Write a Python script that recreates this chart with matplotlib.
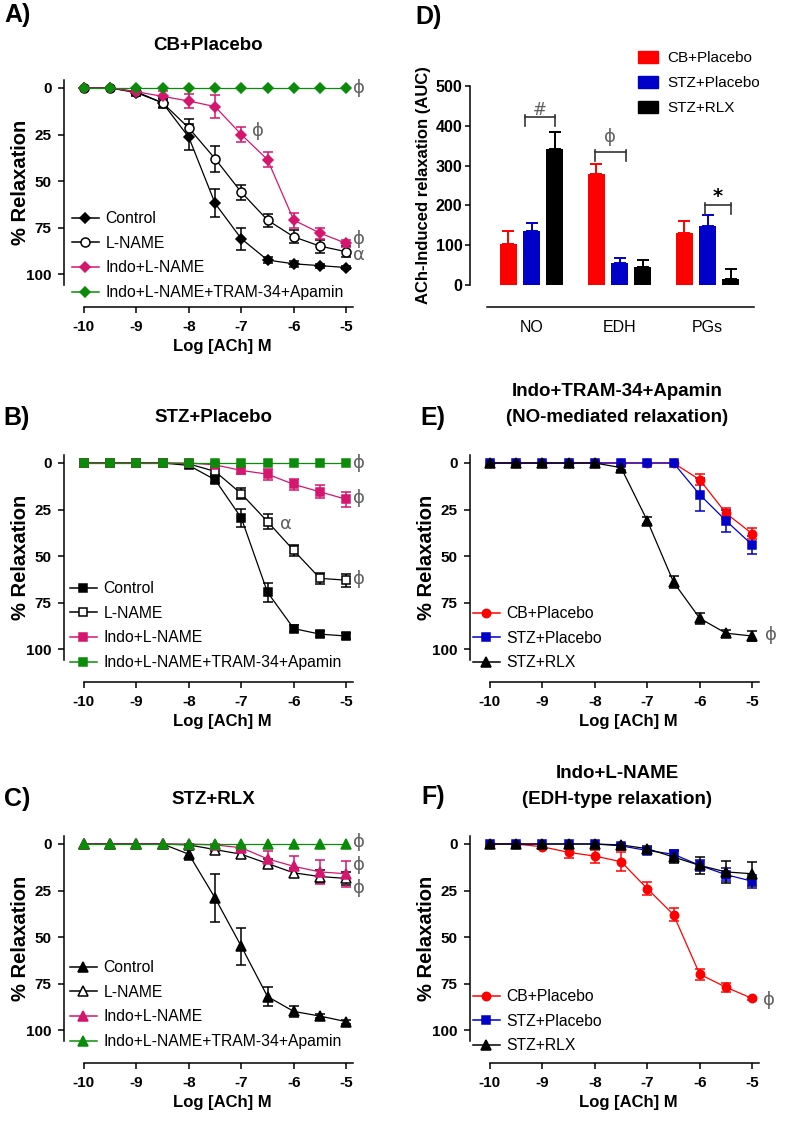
import matplotlib.pyplot as plt
from matplotlib.lines import Line2D
from matplotlib.patches import Patch
import numpy as np

plt.rcParams['font.family'] = ['Liberation Sans', 'DejaVu Sans']

W, H = 787, 1123

log_ach = [-10, -9.5, -9, -8.5, -8, -7.5, -7, -6.5, -6, -5.5, -5]

# A) CB+Placebo
cb_control = [0, 0, 2.5, 8, 26.5, 62, 81, 92.5, 94.5, 95.5, 96.5]
cb_control_err = [0, 0, 2, 2, 7, 7.5, 6, 1.5, 1.5, 1, 1]
cb_lname = [0, 0, 2, 8, 21.5, 38, 56, 71, 80, 85, 88]
cb_lname_err = [0, 0, 2, 2.5, 5, 7, 4, 3.5, 3.5, 3.5, 3]
cb_indo = [0, 0, 2, 4.5, 7, 10, 25, 38.5, 71, 78, 83.5]
cb_indo_err = [0, 0, 1, 3, 4, 6, 4, 4, 4, 3, 2]
cb_tram = [0, 0, 0, 0, 0, 0, 0, 0, 0, 0, 0]

# B) STZ+Placebo
stz_control = [0, 0, 0, 0, 1.3, 9, 29.5, 69.5, 89, 92, 93]
stz_control_err = [0, 0, 0, 0, 1, 2, 5, 5, 2, 1.5, 1.5]
stz_lname = [0, 0, 0, 0, 0.5, 4.5, 16.5, 31.5, 47, 62, 63]
stz_lname_err = [0, 0, 0, 0, 0.5, 1.5, 3, 4, 3, 3, 3.5]
stz_indo = [0, 0, 0, 0, 0, 1, 4, 6, 11.5, 15.5, 19.5]
stz_indo_err = [0, 0, 0, 0, 0, 1, 2, 3, 3, 3.5, 4]
stz_tram = [0, 0, 0, 0, 0, 0, 0, 0, 0, 0, 0]

# C) STZ+RLX
rlx_control = [0, 0, 0, 0, 5.5, 29, 55, 82, 90, 92.5, 95.5]
rlx_control_err = [0, 0, 0, 0, 3, 13, 10, 5, 3, 1, 1]
rlx_lname = [0, 0, 0, 0, 0.5, 3, 5.5, 10.5, 15.5, 17.5, 18.5]
rlx_lname_err = [0, 0, 0, 0, 0.5, 1, 2, 2.5, 2.5, 3.5, 3.5]
rlx_indo = [0, 0, 0, 0, 0, 0.5, 2, 8, 12, 15, 16]
rlx_indo_err = [0, 0, 0, 0, 0, 0.5, 1, 4, 5.5, 6.5, 7]
rlx_tram = [0, 0, 0, 0, 0, 0, 0, 0, 0, 0, 0]

# D) AUC
pathways = ['NO', 'EDH', 'PGs']
auc_cb = [103, 280, 130]
auc_cb_err = [32, 25, 32]
auc_stz = [135, 55, 147]
auc_stz_err = [20, 12, 28]
auc_rlx = [342, 45, 15]
auc_rlx_err = [42, 18, 25]

# E) Indo+TRAM-34+Apamin (NO-mediated)
no_cb = [0, 0, 0, 0, 0, 0, 0, 0, 9, 27, 38]
no_cb_err = [0, 0, 0, 0, 0, 0, 0, 0, 3, 3, 3]
no_stz = [0, 0, 0, 0, 0, 0, 0, 0, 17, 31, 44]
no_stz_err = [0, 0, 0, 0, 0, 0, 0, 0, 9, 6, 5]
no_rlx = [0, 0, 0, 0, 0, 2.5, 31, 64, 83.5, 91.5, 93]
no_rlx_err = [0, 0, 0, 0, 0, 1, 2, 3, 3, 1.5, 2.5]

# F) Indo+L-NAME (EDH-type)
edh_cb = [0, 0, 1.5, 4.5, 6.5, 9.5, 24, 38, 70, 77, 83]
edh_cb_err = [0, 0, 1, 3, 3.5, 5, 3.5, 3.5, 3, 2.5, 1]
edh_stz = [0, 0, 0, 0, 0, 1, 3.5, 5.5, 11.5, 16.5, 20]
edh_stz_err = [0, 0, 0, 0, 0, 1, 1.5, 2.5, 3, 3.5, 3.5]
edh_rlx = [0, 0, 0, 0, 0, 0.5, 2.5, 7, 11.5, 15, 16]
edh_rlx_err = [0, 0, 0, 0, 0, 0.5, 1.5, 3, 4.5, 6, 6.5]

BLACK = 'black'
MAGENTA = '#D4166E'
GREEN = '#0A8C0A'
RED = '#FF0000'
BLUE = '#0000C8'
GREY = '#606060'

fig = plt.figure(figsize=(W / 100, H / 100), dpi=100)


def px_axes(left, top, right, bottom):
    return fig.add_axes([left / W, 1 - bottom / H, (right - left) / W, (bottom - top) / H])


def fig_text(x, y, s, **kw):
    fig.text(x / W, 1 - y / H, s, ha='center', va='center', **kw)


def style_curve_axes(ax):
    ax.set_xlim(-10.38, -4.87)
    ax.set_ylim(105.9, -4.3)
    for s in ['top', 'right']:
        ax.spines[s].set_visible(False)
    ax.spines['left'].set_linewidth(1.1)
    ax.spines['bottom'].set_linewidth(1.1)
    ax.spines['bottom'].set_position(('outward', 16))
    ax.spines['bottom'].set_bounds(-10, -4.87)
    ax.set_xticks([-10, -9, -8, -7, -6, -5])
    ax.set_xticklabels(['-10', '-9', '-8', '-7', '-6', '-5'])
    ax.set_yticks([0, 25, 50, 75, 100])
    ax.tick_params(length=4, width=1.1, labelsize=11, pad=5)
    for lab in ax.get_xticklabels() + ax.get_yticklabels():
        lab.set_fontweight('bold')
    ax.set_xlabel('Log [ACh] M', fontsize=12, fontweight='bold', va='center')
    ax.xaxis.set_label_coords(0.547, -0.30)
    ax.set_ylabel('% Relaxation', fontsize=14.5, fontweight='bold', va='center')
    ax.yaxis.set_label_coords(-0.15, 0.5)


def draw_series(ax, y, err, color, marker, ms, open_marker=False, z=2):
    x = np.array(log_ach)
    y = np.array(y, dtype=float)
    err = np.array(err, dtype=float)
    fc = 'white' if open_marker else color
    mask = err > 0
    ax.errorbar(x[mask], y[mask], yerr=err[mask], fmt='none', ecolor=color,
                elinewidth=1.1, capsize=3.5, capthick=1.1, zorder=z, clip_on=False)
    ax.plot(x, y, color=color, lw=0.9, marker=marker, ms=ms, mfc=fc, mec=color,
            mew=1.1, zorder=z + 0.5, clip_on=False)


def add_legend(items, left, top, fontsize=11.3):
    handles = []
    labels = []
    for lab, color, marker, ms, open_marker in items:
        handles.append(Line2D([0], [0], color=color, lw=1.1, marker=marker, ms=ms,
                              mfc='white' if open_marker else color, mec=color, mew=1.1))
        labels.append(lab)
    fig.legend(handles, labels, loc='upper left', bbox_to_anchor=(left / W, 1 - top / H),
               bbox_transform=fig.transFigure, frameon=False, fontsize=fontsize,
               handlelength=1.7, handletextpad=0.45, labelspacing=0.62,
               borderpad=0, borderaxespad=0)


def note(ax, x, y, s, size=13):
    ax.text(x, y, s, color=GREY, fontsize=size, ha='center', va='center',
            family=['DejaVu Sans'], clip_on=False)


# ---------- A ----------
y0 = 88
axA = px_axes(64, y0 - 8, 353, y0 + 197)
style_curve_axes(axA)
draw_series(axA, cb_control, cb_control_err, BLACK, 'D', 5.5)
draw_series(axA, cb_lname, cb_lname_err, BLACK, 'o', 6.5, open_marker=True)
draw_series(axA, cb_indo, cb_indo_err, MAGENTA, 'D', 5.5)
draw_series(axA, cb_tram, cb_tram, GREEN, 'D', 5.5)
note(axA, -4.75, 0, 'ϕ')
note(axA, -6.69, 23, 'ϕ')
note(axA, -4.75, 81, 'ϕ')
note(axA, -4.75, 90, 'α')
add_legend([('Control', BLACK, 'D', 5.5, False),
            ('L-NAME', BLACK, 'o', 6.5, True),
            ('Indo+L-NAME', MAGENTA, 'D', 5.5, False),
            ('Indo+L-NAME+TRAM-34+Apamin', GREEN, 'D', 5.5, False)], 72, y0 + 123)
fig_text(208, 45, 'CB+Placebo', fontsize=13.5, fontweight='bold')
fig_text(18, 15, 'A)', fontsize=18, fontweight='bold')

# ---------- B ----------
y0 = 463
axB = px_axes(64, y0 - 8, 353, y0 + 197)
style_curve_axes(axB)
draw_series(axB, stz_control, stz_control_err, BLACK, 's', 6)
draw_series(axB, stz_lname, stz_lname_err, BLACK, 's', 6, open_marker=True)
draw_series(axB, stz_indo, stz_indo_err, MAGENTA, 's', 6)
draw_series(axB, stz_tram, stz_tram, GREEN, 's', 6)
note(axB, -4.75, 0, 'ϕ')
note(axB, -4.75, 19, 'ϕ')
note(axB, -4.75, 62.5, 'ϕ')
note(axB, -6.14, 33, 'α')
add_legend([('Control', BLACK, 's', 6, False),
            ('L-NAME', BLACK, 's', 6, True),
            ('Indo+L-NAME', MAGENTA, 's', 6, False),
            ('Indo+L-NAME+TRAM-34+Apamin', GREEN, 's', 6, False)], 70, y0 + 118)
fig_text(213, 418, 'STZ+Placebo', fontsize=13.5, fontweight='bold')
fig_text(17, 418, 'B)', fontsize=18, fontweight='bold')

# ---------- C ----------
y0 = 844
axC = px_axes(64, y0 - 8, 353, y0 + 197)
style_curve_axes(axC)
draw_series(axC, rlx_control, rlx_control_err, BLACK, '^', 6.5)
draw_series(axC, rlx_lname, rlx_lname_err, BLACK, '^', 6.5, open_marker=True)
draw_series(axC, rlx_indo, rlx_indo_err, MAGENTA, '^', 6.5)
draw_series(axC, rlx_tram, rlx_tram, GREEN, '^', 6.5)
note(axC, -4.75, -1, 'ϕ')
note(axC, -4.75, 11.3, 'ϕ')
note(axC, -4.75, 23.7, 'ϕ')
add_legend([('Control', BLACK, '^', 6.5, False),
            ('L-NAME', BLACK, '^', 6.5, True),
            ('Indo+L-NAME', MAGENTA, '^', 6.5, False),
            ('Indo+L-NAME+TRAM-34+Apamin', GREEN, '^', 6.5, False)], 70, y0 + 116)
fig_text(213, 799, 'STZ+RLX', fontsize=13.5, fontweight='bold')
fig_text(17, 799, 'C)', fontsize=18, fontweight='bold')

# ---------- D ----------
axD = px_axes(470, 86, 754, 285)
xc = np.arange(len(pathways))
off = 0.265
bw = 0.193
for dx, vals, errs, col in [(-off, auc_cb, auc_cb_err, RED),
                            (0, auc_stz, auc_stz_err, BLUE),
                            (off, auc_rlx, auc_rlx_err, BLACK)]:
    axD.bar(xc + dx, vals, width=bw, color=col, zorder=2)
    axD.errorbar(xc + dx, vals, yerr=[np.zeros(len(vals)), errs], fmt='none',
                 ecolor=col, elinewidth=1.4, capsize=4, capthick=1.4, zorder=1)
axD.set_xlim(-0.699, 2.528)
axD.set_ylim(0, 500)
for s in ['top', 'right']:
    axD.spines[s].set_visible(False)
axD.spines['left'].set_linewidth(1.1)
axD.spines['bottom'].set_linewidth(1.1)
axD.spines['bottom'].set_position(('outward', 16))
axD.spines['bottom'].set_bounds(-0.506, 2.528)
axD.set_yticks([0, 100, 200, 300, 400, 500])
axD.set_xticks(xc)
axD.set_xticklabels(pathways, fontsize=11.5)
axD.tick_params(axis='x', length=0, pad=9)
axD.tick_params(axis='y', length=3.5, width=1.1, labelsize=11.5, pad=2)
for lab in axD.get_yticklabels():
    lab.set_fontweight('bold')
axD.set_ylabel('ACh-Induced relaxation (AUC)', fontsize=12, fontweight='bold', va='center')
axD.yaxis.set_label_coords(-0.165, 0.5)


def bracket(ax, x1, x2, y, s, color=GREY, size=13, weight='normal', gap=18):
    ax.plot([x1, x1], [y + 6, y - 22], color='#333333', lw=1.2)
    ax.plot([x2, x2], [y + 6, y - 22], color='#333333', lw=1.2)
    ax.plot([x1, x2], [y, y], color='#333333', lw=1.2)
    ax.text((x1 + x2) / 2, y + gap, s, color=color, fontsize=size, fontweight=weight,
            ha='center', va='center', family=['DejaVu Sans'])


bracket(axD, -0.07, 0.267, 422, '#', size=12)
bracket(axD, 1 - 0.28, 1 + 0.07, 334, 'ϕ', size=13, gap=38)
bracket(axD, 2 - 0.03, 2 + 0.267, 201, '*', color='black', size=14, weight='bold', gap=22)

fig.legend([Patch(color=RED), Patch(color=BLUE), Patch(color=BLACK)],
           ['CB+Placebo', 'STZ+Placebo', 'STZ+RLX'], loc='upper left',
           bbox_to_anchor=(638 / W, 1 - 51 / H), bbox_transform=fig.transFigure,
           frameon=False, fontsize=11, handlelength=1.3, handleheight=0.85,
           handletextpad=0.6, labelspacing=0.68, borderpad=0, borderaxespad=0)
fig_text(429, 17, 'D)', fontsize=18, fontweight='bold')

# ---------- E ----------
y0 = 463
axE = px_axes(470, y0 - 8, 759, y0 + 197)
style_curve_axes(axE)
draw_series(axE, no_cb, no_cb_err, RED, 'o', 6)
draw_series(axE, no_stz, no_stz_err, BLUE, 's', 6)
draw_series(axE, no_rlx, no_rlx_err, BLACK, '^', 6.5)
note(axE, -4.64, 92.5, 'ϕ')
add_legend([('CB+Placebo', RED, 'o', 6, False),
            ('STZ+Placebo', BLUE, 's', 6, False),
            ('STZ+RLX', BLACK, '^', 6.5, False)], 473, y0 + 143)
fig_text(617, 392, 'Indo+TRAM-34+Apamin', fontsize=13.5, fontweight='bold')
fig_text(617, 418, '(NO-mediated relaxation)', fontsize=13.5, fontweight='bold')
fig_text(433, 418, 'E)', fontsize=18, fontweight='bold')

# ---------- F ----------
y0 = 844
axF = px_axes(470, y0 - 8, 759, y0 + 197)
style_curve_axes(axF)
draw_series(axF, edh_cb, edh_cb_err, RED, 'o', 6)
draw_series(axF, edh_stz, edh_stz_err, BLUE, 's', 6)
draw_series(axF, edh_rlx, edh_rlx_err, BLACK, '^', 6.5)
note(axF, -4.68, 84, 'ϕ')
add_legend([('CB+Placebo', RED, 'o', 6, False),
            ('STZ+Placebo', BLUE, 's', 6, False),
            ('STZ+RLX', BLACK, '^', 6.5, False)], 473, y0 + 145)
fig_text(617, 773, 'Indo+L-NAME', fontsize=13.5, fontweight='bold')
fig_text(617, 799, '(EDH-type relaxation)', fontsize=13.5, fontweight='bold')
fig_text(433, 797, 'F)', fontsize=18, fontweight='bold')

fig.savefig('out.png', dpi=100)
